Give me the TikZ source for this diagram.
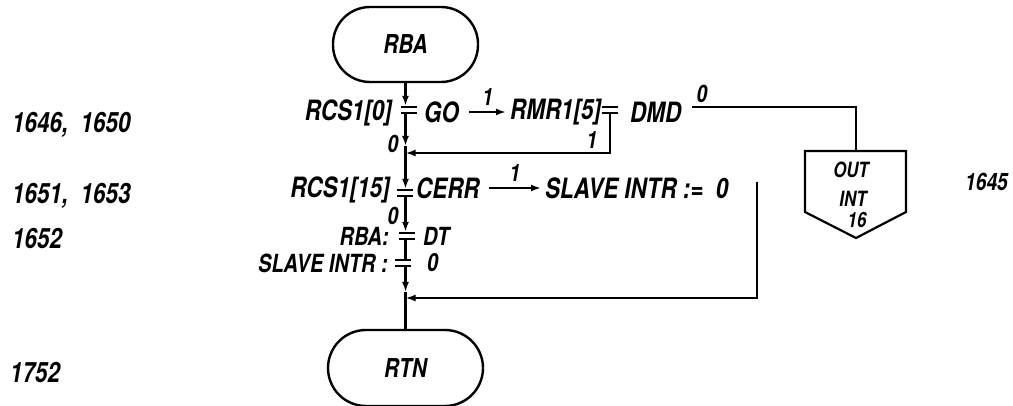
\documentclass[tikz,border=0pt]{standalone}
\usepackage{fontspec}
\usepackage{graphicx}
\newfontfamily\handfont{TeX Gyre Heros}
\usetikzlibrary{arrows.meta}
\newcommand{\hw}[1]{\scalebox{0.8}[1]{\handfont\bfseries\itshape #1}}
\tikzset{
  txt/.style={inner sep=0pt, font=\fontsize{28}{32}\selectfont},
  txtb/.style={inner sep=0pt, font=\fontsize{25}{28}\selectfont},
  eqs/.style={inner sep=0pt, minimum width=16pt, minimum height=8pt,
    path picture={\draw[line width=2.4pt]
      ([yshift=-1.2pt]path picture bounding box.north west) -- ([yshift=-1.2pt]path picture bounding box.north east)
      ([yshift=1.2pt]path picture bounding box.south west) -- ([yshift=1.2pt]path picture bounding box.south east);}},
  lab/.style={inner sep=0pt, font=\fontsize{24}{28}\selectfont},
  small/.style={inner sep=0pt, font=\fontsize{21}{24}\selectfont},
  term/.style={draw, line width=2.4pt, rounded corners=37pt, minimum width=145pt, minimum height=75pt, inner sep=0pt, font=\fontsize{26}{30}\selectfont},
  ln/.style={line width=2.2pt},
  arr/.style={ln, -{Latex[length=10pt,width=7pt]}},
}
\begin{document}
\begin{tikzpicture}[x=1pt,y=-1pt]
\useasboundingbox (0,0) rectangle (1013,406);
% terminals
\node[term] (rba) at (405.5,44.5) {\hw{RBA}};
\node[term, minimum width=155pt, minimum height=76pt, rounded corners=38pt] (rtn) at (405.5,368) {\hw{RTN}};
% left reference numbers
\node[txt, anchor=west] (n1) at (12,125) {\hw{1646, \ 1650}};
\node[txt, anchor=west] (n2) at (12,196) {\hw{1651, \ 1653}};
\node[txt, anchor=west] (n3) at (12,238) {\hw{1652}};
\node[txt, anchor=west] (n4) at (10,372) {\hw{1752}};
\node[lab, anchor=west] (n5) at (965,182) {\hw{1645}};
% row 1
\node[txt, anchor=east] (rcs0) at (392,113) {\hw{RCS1[0]}};
\node[eqs] (eq1) at (409,110) {};
\node[txt, anchor=west] (go) at (424,112) {\hw{GO}};
\node[txt, anchor=west] (rmr) at (510,112) {\hw{RMR1[5]}};
\node[eqs] (eqb) at (610,110) {};
\node[txt, anchor=west] (dmd) at (630,112) {\hw{DMD}};
\draw[arr] ([xshift=10pt]go.east) -- ([xshift=-4pt]rmr.west)
  node[lab, midway, above=5pt] (l1a) {\hw{1}};
% exit 0 to OUT INT 16
\coordinate (c1) at (692,107);
\coordinate (outtop) at (856,151);
\draw[ln] (c1) -| (outtop);
\node[lab] (l0b) at (702,94) {\hw{0}};
\draw[ln] (805,151) -- (906,151) -- (906,212) -- (856,238) -- (805,212) -- cycle;
\node[small] (o1) at (851,170) {\hw{OUT}};
\node[small] (o2) at (853,199) {\hw{INT}};
\node[small] (o3) at (857,220) {\hw{16}};
% loop 1
\coordinate (j1) at (405.5,153);
\draw[arr] (eqb.south) |- (j1);
\node[lab] (l1c) at (592,140) {\hw{1}};
% main line row1 -> row2
\draw[arr] (rba.south) -- (rba.south |- eq1.north);
\draw[arr] (rba.south |- eq1.south) -- ([yshift=7pt]j1);
\draw[ln] ([yshift=7pt]j1) -- (j1);
\node[lab] (l0a) at (393,144) {\hw{0}};
% row 2
\node[txt, anchor=east] (rcs15) at (390,190) {\hw{RCS1[15]}};
\node[eqs] (eq2) at (405,193) {};
\node[txt, anchor=west] (cerr) at (416,188) {\hw{CERR}};
\node[txt, anchor=west] (slv) at (545,188) {\hw{SLAVE INTR :=~~0}};
\draw[arr] (j1) -- (j1 |- eq2.north);
\draw[arr] ([xshift=9pt]cerr.east) -- ([xshift=-4pt]slv.west)
  node[lab, midway, above=5pt] (l1b) {\hw{1}};
% loop 2
\coordinate (c2) at (757,182);
\coordinate (j2) at (405.5,298);
\draw[arr] (c2) |- (j2);
% row 3
\node[lab] (l0c) at (393,216) {\hw{0}};
\node[eqs] (eq3) at (407,236) {};
\node[txtb, anchor=east] (rbaa) at (389,236) {\hw{RBA:}};
\node[txtb, anchor=west] (dt) at (423,236) {\hw{DT}};
\draw[arr] (rba.south |- eq2.south) -- (rba.south |- eq3.north);
% row 4
\node[eqs] (eq4) at (403,263) {};
\node[txtb, anchor=east] (slv2) at (388,263) {\hw{SLAVE INTR :}};
\node[txtb, anchor=west] (z4) at (427,263) {\hw{0}};
\draw[ln] (rba.south |- eq3.south) -- (rba.south |- eq4.north);
\draw[arr] (rba.south |- eq4.south) -- ([yshift=6pt]j2);
\draw[ln] ([yshift=6pt]j2) -- (rtn.north);
\end{tikzpicture}
\end{document}
